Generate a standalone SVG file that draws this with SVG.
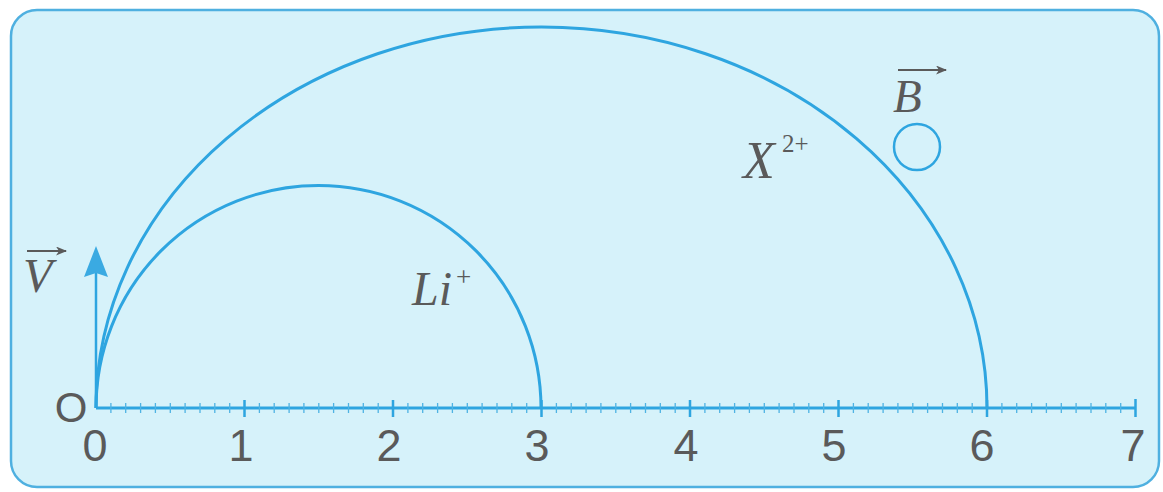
<svg xmlns="http://www.w3.org/2000/svg" width="1163" height="492" viewBox="0 0 1163 492">
  <style>
    .curve { fill: none; stroke: #2ea5e0; stroke-width: 3; }
    .axis { fill: none; stroke: #2ea5e0; stroke-width: 3; }
    .minor { fill: none; stroke: #4fb3e3; stroke-width: 1.3; }
    .major { fill: none; stroke: #2ea5e0; stroke-width: 2.5; }
    .num { font-family: "Liberation Sans", Arial, sans-serif; font-size: 45px; fill: #5a5a5a; text-anchor: middle; }
    .var { font-family: "Liberation Serif", "Times New Roman", serif; font-style: italic; fill: #5a5a5a; }
    .vecarrow { fill: none; stroke: #5a5a5a; stroke-width: 2; }
  </style>
  <defs>
    <marker id="vhead" markerWidth="11" markerHeight="9" refX="10" refY="4.5" orient="auto" markerUnits="userSpaceOnUse">
      <path d="M0,0 L11,4.5 L0,9 L3,4.5 Z" fill="#5a5a5a"/>
    </marker>
  </defs>

  <rect id="frame" x="11" y="10" width="1148" height="477" rx="26" ry="26" fill="#d6f2fa" stroke="#4fb0e0" stroke-width="2.5"/>

  <g id="axis">
    <line class="axis" x1="96" y1="408" x2="1136" y2="408"/>
    <path class="minor" d="M110.9 403v10M125.7 403v10M140.6 403v10M155.4 403v10M170.3 403v10M185.1 403v10M200 403v10M214.8 403v10M229.7 403v10M259.4 403v10M274.2 403v10M289.1 403v10M303.9 403v10M318.8 403v10M333.6 403v10M348.5 403v10M363.3 403v10M378.2 403v10M407.9 403v10M422.7 403v10M437.6 403v10M452.4 403v10M467.3 403v10M482.1 403v10M497 403v10M511.8 403v10M526.7 403v10M556.4 403v10M571.2 403v10M586.1 403v10M600.9 403v10M615.8 403v10M630.6 403v10M645.5 403v10M660.3 403v10M675.2 403v10M704.9 403v10M719.7 403v10M734.6 403v10M749.4 403v10M764.3 403v10M779.1 403v10M794 403v10M808.8 403v10M823.7 403v10M853.4 403v10M868.2 403v10M883.1 403v10M897.9 403v10M912.8 403v10M927.6 403v10M942.5 403v10M957.3 403v10M972.2 403v10M1001.9 403v10M1016.7 403v10M1031.6 403v10M1046.4 403v10M1061.3 403v10M1076.1 403v10M1091 403v10M1105.8 403v10M1120.7 403v10"/>
    <path class="major" d="M244.5 400v17M393 400v17M541.5 400v17M690 400v17M838.5 400v17M987 400v17M1135.5 399v18"/>
    <text class="num" x="95" y="461">0</text>
    <text class="num" x="241" y="461">1</text>
    <text class="num" x="389" y="461">2</text>
    <text class="num" x="537" y="461">3</text>
    <text class="num" x="686" y="461">4</text>
    <text class="num" x="834" y="461">5</text>
    <text class="num" x="982" y="461">6</text>
    <text class="num" x="1133" y="461">7</text>
    <text x="71" y="422" font-family="Liberation Sans, Arial, sans-serif" font-size="42" fill="#5a5a5a" text-anchor="middle">O</text>
  </g>

  <g id="velocity">
    <line x1="96" y1="408" x2="96" y2="272" stroke="#2ea5e0" stroke-width="2.5"/>
    <path d="M96 246 L108 277 L96 273 L84 277 Z" fill="#3aaae2"/>
    <line class="vecarrow" x1="27" y1="251" x2="66" y2="251" marker-end="url(#vhead)"/>
    <text class="var" x="23" y="292" font-size="48">V</text>
  </g>

  <g id="connectors">
    <path id="traj-X" class="curve" d="M96 408 A445.5 381 0 0 1 987 408"/>
    <path id="traj-Li" class="curve" d="M96 408 A222.5 222.5 0 0 1 541 408"/>
  </g>

  <g id="label-Li">
    <text class="var" x="412" y="305" font-size="48">Li</text>
    <text x="456" y="286" font-family="Liberation Serif, 'Times New Roman', serif" font-size="27" fill="#5a5a5a">+</text>
  </g>

  <g id="label-X">
    <text class="var" x="743" y="178" font-size="52">X</text>
    <text x="782" y="152" font-family="Liberation Serif, 'Times New Roman', serif" font-size="25" fill="#5a5a5a">2+</text>
  </g>

  <g id="field-B">
    <line class="vecarrow" x1="898" y1="70" x2="946" y2="70" marker-end="url(#vhead)"/>
    <text class="var" x="893" y="112" font-size="47">B</text>
    <circle cx="917" cy="147" r="23" fill="none" stroke="#2ea5e0" stroke-width="2.5"/>
  </g>
</svg>
